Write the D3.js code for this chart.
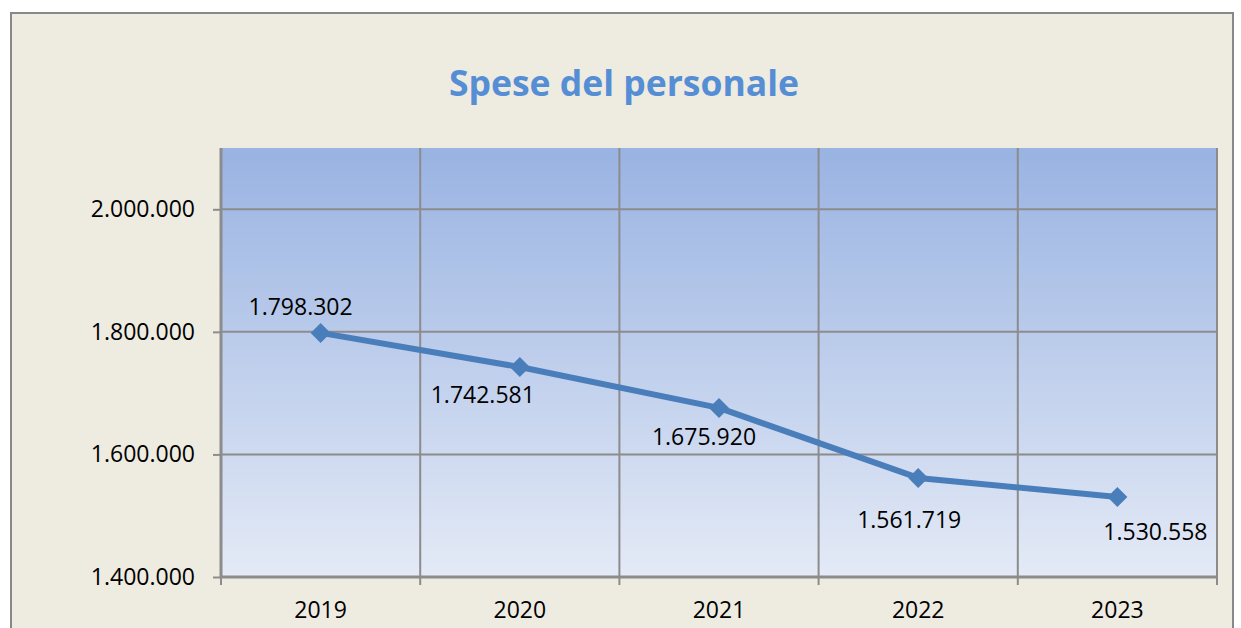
<!DOCTYPE html>
<meta charset="utf-8">
<head>
    <script src="https://d3js.org/d3.v7.min.js"></script>
    <style>
        body { margin: 0; background: #ffffff; }
        .lbl { font-family: "Open Sans", "Liberation Sans", sans-serif; font-size: 23px; fill: #000; }
    </style>
</head>
<body>
<script type="text/javascript">

    var years = ["2019", "2020", "2021", "2022", "2023"];
    var spese = [1798302, 1742581, 1675920, 1561719, 1530558];
    var yTicks = [1400000, 1600000, 1800000, 2000000];
    // label placement around each point: [dx, dy]
    var labelOffsets = [[-20, -27], [-37, 27], [-15, 28], [-9, 41], [38, 34]];

    var width = 1241;
    var height = 628;
    var plot = { left: 221, right: 1217, top: 148, bottom: 577 };

    var svg = d3.select("body")
        .append("svg")
        .attr("width", width)
        .attr("height", height);

    // outer chart area
    svg.append("rect")
        .attr("x", 11).attr("y", 13)
        .attr("width", 1222).attr("height", 640)
        .attr("fill", "#eeebe0")
        .attr("stroke", "#888888")
        .attr("stroke-width", 2);

    var defs = svg.append("defs");
    var grad = defs.append("linearGradient")
        .attr("id", "bg").attr("x1", 0).attr("y1", 0).attr("x2", 0).attr("y2", 1);
    grad.append("stop").attr("offset", "0%").attr("stop-color", "#99b3e2");
    grad.append("stop").attr("offset", "100%").attr("stop-color", "#e4eaf6");

    var x = d3.scaleBand()
        .domain(years)
        .range([plot.left, plot.right]);

    var y = d3.scaleLinear()
        .domain([1400000, 2100000])
        .range([plot.bottom, plot.top]);

    var fmt = function (v) {
        return d3.format(",")(v).replace(/,/g, ".");
    };

    svg.append("rect")
        .attr("x", plot.left).attr("y", plot.top)
        .attr("width", plot.right - plot.left)
        .attr("height", plot.bottom - plot.top)
        .attr("fill", "url(#bg)");

    // horizontal gridlines
    svg.append("g")
        .selectAll("line")
        .data(yTicks.slice(1))
        .enter()
        .append("line")
        .attr("x1", plot.left).attr("x2", plot.right)
        .attr("y1", function (d) { return y(d); })
        .attr("y2", function (d) { return y(d); })
        .attr("stroke", "#8c8c8c").attr("stroke-width", 2);

    // vertical gridlines at band edges
    var edges = years.map(function (d) { return x(d); }).concat([plot.right]);
    svg.append("g")
        .selectAll("line")
        .data(edges.slice(1))
        .enter()
        .append("line")
        .attr("x1", function (d) { return d; })
        .attr("x2", function (d) { return d; })
        .attr("y1", plot.top).attr("y2", plot.bottom)
        .attr("stroke", "#8c8c8c").attr("stroke-width", 2);

    // y axis
    var yAxis = svg.append("g")
        .attr("transform", "translate(" + plot.left + ",0)")
        .call(d3.axisLeft(y).tickValues(yTicks).tickSize(8).tickPadding(18).tickFormat(fmt));
    yAxis.select(".domain").attr("stroke", "#8c8c8c").attr("stroke-width", 3)
        .attr("d", "M0," + plot.top + "V" + plot.bottom);
    yAxis.selectAll(".tick line").attr("stroke", "#8c8c8c").attr("stroke-width", 2);
    yAxis.selectAll(".tick text").attr("class", "lbl").attr("fill", "#000");

    // x axis
    var xAxis = svg.append("g")
        .attr("transform", "translate(0," + plot.bottom + ")")
        .call(d3.axisBottom(x).tickSize(0).tickPadding(25));
    xAxis.select(".domain").attr("stroke", "#8c8c8c").attr("stroke-width", 3)
        .attr("d", "M" + plot.left + ",0H" + plot.right);
    xAxis.selectAll(".tick text").attr("class", "lbl").attr("fill", "#000");
    xAxis.selectAll(".edge")
        .data(edges)
        .enter()
        .append("line")
        .attr("x1", function (d) { return d; })
        .attr("x2", function (d) { return d; })
        .attr("y1", 0).attr("y2", 8)
        .attr("stroke", "#8c8c8c").attr("stroke-width", 2);

    var pts = years.map(function (yr, i) {
        return { year: yr, value: spese[i], i: i };
    });

    var line = d3.line()
        .x(function (d) { return x(d.year) + x.bandwidth() / 2; })
        .y(function (d) { return y(d.value); });

    svg.append("path")
        .datum(pts)
        .attr("d", line)
        .attr("fill", "none")
        .attr("stroke", "#4a7ebb")
        .attr("stroke-width", 6)
        .attr("stroke-linejoin", "round");

    svg.selectAll(".marker")
        .data(pts)
        .enter()
        .append("path")
        .attr("d", "M0,-10L10,0L0,10L-10,0Z")
        .attr("fill", "#4a7ebb")
        .attr("transform", function (d) {
            return "translate(" + (x(d.year) + x.bandwidth() / 2) + "," + y(d.value) + ")";
        });

    svg.selectAll(".vlabel")
        .data(pts)
        .enter()
        .append("text")
        .attr("class", "lbl")
        .attr("text-anchor", "middle")
        .attr("dominant-baseline", "central")
        .attr("x", function (d) { return x(d.year) + x.bandwidth() / 2 + labelOffsets[d.i][0]; })
        .attr("y", function (d) { return y(d.value) + labelOffsets[d.i][1]; })
        .text(function (d) { return fmt(d.value); });

    svg.append("text")
        .attr("x", 624)
        .attr("y", 96)
        .attr("text-anchor", "middle")
        .attr("font-family", "'Open Sans', 'Liberation Sans', sans-serif")
        .attr("font-size", "35.5px")
        .attr("font-weight", "bold")
        .attr("fill", "#558ed5")
        .text("Spese del personale");

</script>
</body>
</html>
